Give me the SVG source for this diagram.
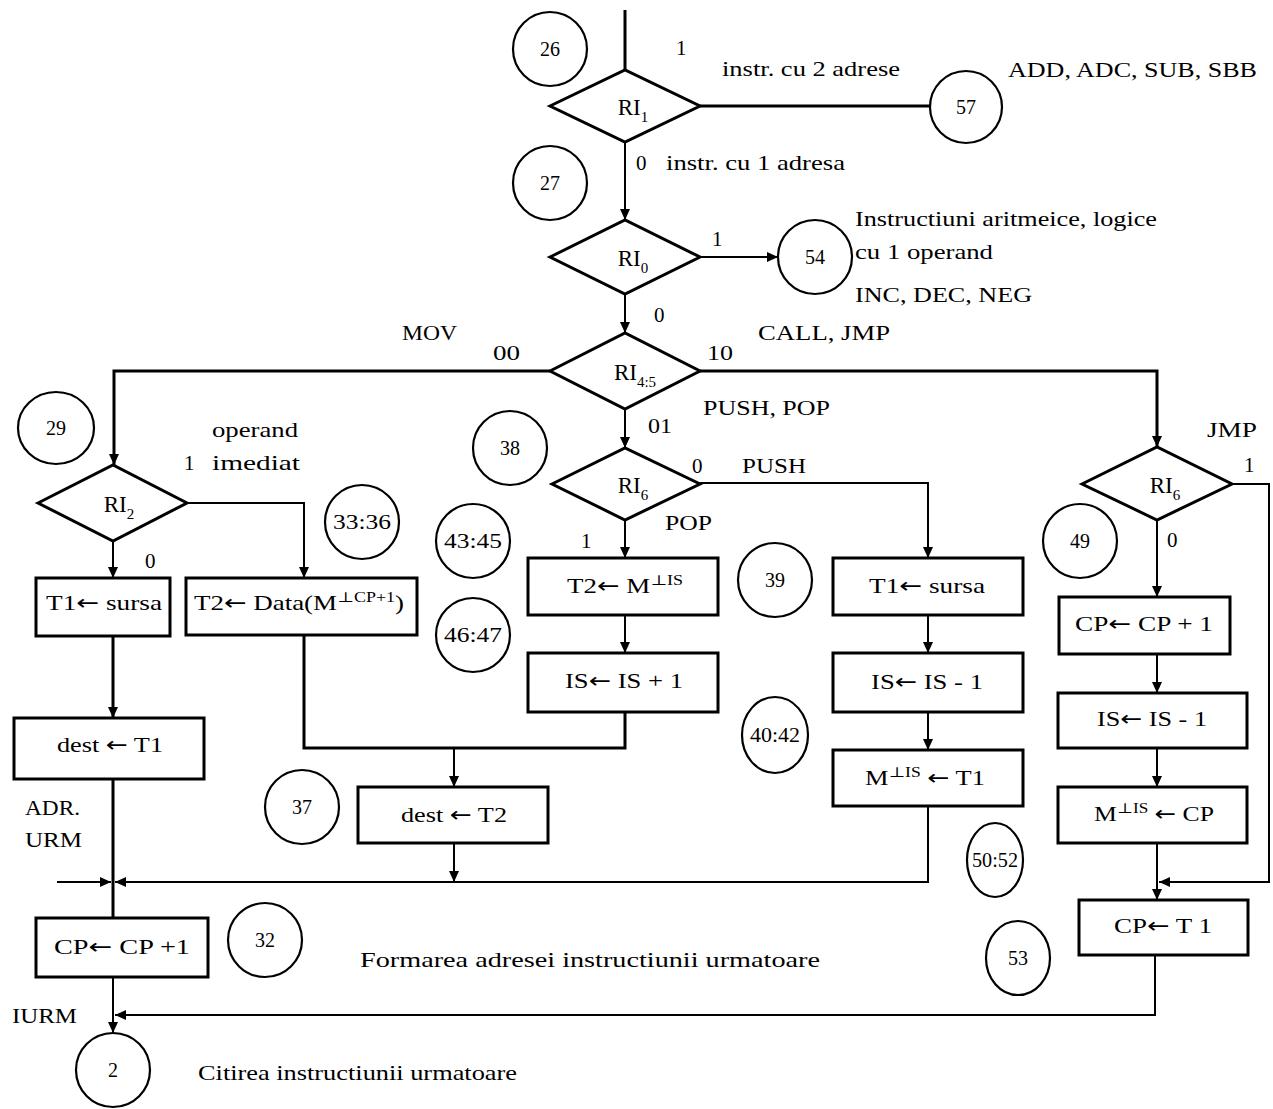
<svg xmlns="http://www.w3.org/2000/svg" width="1273" height="1109" viewBox="0 0 1273 1109">
<style>
text{font-family:"Liberation Serif","Times New Roman","DejaVu Serif",serif;font-size:21px;fill:#000}
.num{font-size:20px;text-anchor:middle}
.m{text-anchor:middle}
.ri{font-size:23px}
.sub{font-size:15px}
.sup{font-size:14px}
.ar{font-family:"DejaVu Sans",sans-serif}
.circ{fill:#fff;stroke:#000;stroke-width:2.2}
.box{fill:#fff;stroke:#000;stroke-width:3}
.dia{fill:#fff;stroke:#000;stroke-width:3}
.con polyline,.con line{fill:none;stroke:#000;stroke-width:2}
.con .thick{stroke-width:3}
</style>
<defs>
<marker id="a" markerWidth="12" markerHeight="10" refX="11" refY="5" orient="auto" markerUnits="userSpaceOnUse"><path d="M0,0 L11,5 L0,10 z" fill="#000"/></marker>
</defs>
<g id="connectors" class="con">
<line class="thick" x1="625" y1="10" x2="625" y2="70"/>
<line class="thick" x1="700" y1="106" x2="930" y2="106"/>
<line x1="625" y1="142" x2="625" y2="220" marker-end="url(#a)"/>
<line x1="700" y1="257" x2="778" y2="257" marker-end="url(#a)"/>
<line x1="625" y1="294" x2="625" y2="333" marker-end="url(#a)"/>
<polyline class="thick" points="550,371 114,371 114,465" marker-end="url(#a)"/>
<polyline class="thick" points="700,371 1157,371 1157,447" marker-end="url(#a)"/>
<line x1="625" y1="409" x2="625" y2="448" marker-end="url(#a)"/>
<polyline points="187,503 304,503 304,578" marker-end="url(#a)"/>
<line x1="113" y1="541" x2="113" y2="578" marker-end="url(#a)"/>
<line class="thick" x1="113" y1="636" x2="113" y2="718" marker-end="url(#a)"/>
<polyline class="thick" points="304,635 304,748 625,748 625,712"/>
<line x1="454" y1="748" x2="454" y2="787" marker-end="url(#a)"/>
<line x1="454" y1="843" x2="454" y2="882" marker-end="url(#a)"/>
<line x1="625" y1="520" x2="625" y2="558" marker-end="url(#a)"/>
<line x1="625" y1="615" x2="625" y2="653" marker-end="url(#a)"/>
<polyline points="700,483 928,483 928,558" marker-end="url(#a)"/>
<line x1="928" y1="615" x2="928" y2="653" marker-end="url(#a)"/>
<line x1="928" y1="712" x2="928" y2="750" marker-end="url(#a)"/>
<polyline points="928,806 928,882 115,882" marker-end="url(#a)"/>
<line x1="57" y1="882" x2="111" y2="882" marker-end="url(#a)"/>
<line class="thick" x1="113" y1="779" x2="113" y2="918"/>
<line x1="113" y1="977" x2="113" y2="1033" marker-end="url(#a)"/>
<polyline points="1155,955 1155,1015 115,1015" marker-end="url(#a)"/>
<line x1="1157" y1="520" x2="1157" y2="597" marker-end="url(#a)"/>
<line x1="1157" y1="654" x2="1157" y2="693" marker-end="url(#a)"/>
<line x1="1157" y1="748" x2="1157" y2="787" marker-end="url(#a)"/>
<line x1="1157" y1="843" x2="1157" y2="900" marker-end="url(#a)"/>
<polyline points="1232,484 1269,484 1269,882 1159,882" marker-end="url(#a)"/>
</g>
<g id="d_ri1"><polygon class="dia" points="550,106 625,70 700,106 625,142"/><text x="633" y="115" class="m ri">RI<tspan class="sub" dy="7">1</tspan></text></g>
<g id="d_ri0"><polygon class="dia" points="550,257 625,220 700,257 625,294"/><text x="633" y="266" class="m ri">RI<tspan class="sub" dy="7">0</tspan></text></g>
<g id="d_ri45"><polygon class="dia" points="550,371 625,333 700,371 625,409"/><text x="635" y="380" class="m ri">RI<tspan class="sub" dy="7">4:5</tspan></text></g>
<g id="d_ri2"><polygon class="dia" points="38,503 113,465 187,503 113,541"/><text x="119" y="512" class="m ri">RI<tspan class="sub" dy="7">2</tspan></text></g>
<g id="d_ri6a"><polygon class="dia" points="552,484 625,448 700,484 625,520"/><text x="633" y="493" class="m ri">RI<tspan class="sub" dy="7">6</tspan></text></g>
<g id="d_ri6b"><polygon class="dia" points="1082,484 1157,447 1232,484 1157,520"/><text x="1165" y="493" class="m ri">RI<tspan class="sub" dy="7">6</tspan></text></g>
<g id="c26"><circle class="circ" cx="550" cy="49" r="37"/><text class="num" x="550" y="56">26</text></g>
<g id="c27"><circle class="circ" cx="550" cy="183" r="37"/><text class="num" x="550" y="190">27</text></g>
<g id="c57"><circle class="circ" cx="966" cy="107" r="36"/><text class="num" x="966" y="114">57</text></g>
<g id="c54"><circle class="circ" cx="815" cy="257" r="37"/><text class="num" x="815" y="264">54</text></g>
<g id="c29"><ellipse class="circ" cx="56" cy="428" rx="38" ry="36"/><text class="num" x="56" y="435">29</text></g>
<g id="c3336"><circle class="circ" cx="362" cy="522" r="37"/><text class="num" x="362" y="529" textLength="58" lengthAdjust="spacingAndGlyphs">33:36</text></g>
<g id="c38"><circle class="circ" cx="510" cy="448" r="37"/><text class="num" x="510" y="455">38</text></g>
<g id="c4345"><circle class="circ" cx="473" cy="541" r="37"/><text class="num" x="473" y="548" textLength="58" lengthAdjust="spacingAndGlyphs">43:45</text></g>
<g id="c4647"><circle class="circ" cx="473" cy="635" r="37"/><text class="num" x="473" y="642" textLength="58" lengthAdjust="spacingAndGlyphs">46:47</text></g>
<g id="c39"><circle class="circ" cx="775" cy="580" r="37"/><text class="num" x="775" y="587">39</text></g>
<g id="c4042"><ellipse class="circ" cx="775" cy="735" rx="33" ry="38"/><text class="num" x="775" y="742" textLength="50" lengthAdjust="spacingAndGlyphs">40:42</text></g>
<g id="c49"><circle class="circ" cx="1080" cy="541" r="37"/><text class="num" x="1080" y="548">49</text></g>
<g id="c37"><circle class="circ" cx="302" cy="807" r="37"/><text class="num" x="302" y="814">37</text></g>
<g id="c5052"><ellipse class="circ" cx="995" cy="860" rx="28" ry="37"/><text class="num" x="995" y="867" textLength="46" lengthAdjust="spacingAndGlyphs">50:52</text></g>
<g id="c32"><circle class="circ" cx="265" cy="940" r="37"/><text class="num" x="265" y="947">32</text></g>
<g id="c53"><ellipse class="circ" cx="1018" cy="958" rx="32" ry="37"/><text class="num" x="1018" y="965">53</text></g>
<g id="c2"><circle class="circ" cx="113" cy="1070" r="37"/><text class="num" x="113" y="1077">2</text></g>
<g id="b_t1sursa"><rect class="box" x="36" y="578" width="134" height="58"/><text x="104" y="610" class="m" textLength="116" lengthAdjust="spacingAndGlyphs">T1<tspan class="ar">←</tspan> sursa</text></g>
<g id="b_t2data"><rect class="box" x="186" y="578" width="231" height="57"/><text x="299" y="610" class="m" textLength="210" lengthAdjust="spacingAndGlyphs">T2<tspan class="ar">←</tspan> Data(M<tspan class="sup" dy="-8">⊥CP+1</tspan><tspan dy="8">)</tspan></text></g>
<g id="b_t2mis"><rect class="box" x="528" y="558" width="190" height="57"/><text x="625" y="593" class="m" textLength="116" lengthAdjust="spacingAndGlyphs">T2<tspan class="ar">←</tspan>  M<tspan class="sup" dy="-8">⊥IS</tspan></text></g>
<g id="b_isplus"><rect class="box" x="528" y="653" width="190" height="59"/><text x="624" y="688" class="m" textLength="118" lengthAdjust="spacingAndGlyphs">IS<tspan class="ar">←</tspan> IS + 1</text></g>
<g id="b_t1sursa2"><rect class="box" x="833" y="558" width="190" height="57"/><text x="927" y="593" class="m" textLength="116" lengthAdjust="spacingAndGlyphs">T1<tspan class="ar">←</tspan> sursa</text></g>
<g id="b_isminus"><rect class="box" x="833" y="653" width="190" height="59"/><text x="927" y="689" class="m" textLength="112" lengthAdjust="spacingAndGlyphs">IS<tspan class="ar">←</tspan> IS - 1</text></g>
<g id="b_mist1"><rect class="box" x="833" y="750" width="190" height="56"/><text x="925" y="785" class="m" textLength="120" lengthAdjust="spacingAndGlyphs">M<tspan class="sup" dy="-8">⊥IS</tspan><tspan dy="8"> </tspan><tspan class="ar">←</tspan> T1</text></g>
<g id="b_cpplus"><rect class="box" x="1059" y="597" width="171" height="57"/><text x="1144" y="631" class="m" textLength="138" lengthAdjust="spacingAndGlyphs">CP<tspan class="ar">←</tspan> CP + 1</text></g>
<g id="b_isminus2"><rect class="box" x="1058" y="693" width="189" height="55"/><text x="1152" y="726" class="m" textLength="110" lengthAdjust="spacingAndGlyphs">IS<tspan class="ar">←</tspan> IS - 1</text></g>
<g id="b_miscp"><rect class="box" x="1058" y="787" width="189" height="56"/><text x="1154" y="821" class="m" textLength="120" lengthAdjust="spacingAndGlyphs">M<tspan class="sup" dy="-8">⊥IS</tspan><tspan dy="8"> </tspan><tspan class="ar">←</tspan> CP</text></g>
<g id="b_cpt1"><rect class="box" x="1079" y="900" width="169" height="55"/><text x="1163" y="933" class="m" textLength="98" lengthAdjust="spacingAndGlyphs">CP<tspan class="ar">←</tspan> T 1</text></g>
<g id="b_destt1"><rect class="box" x="14" y="718" width="190" height="61"/><text x="110" y="752" class="m" textLength="106" lengthAdjust="spacingAndGlyphs">dest <tspan class="ar">←</tspan> T1</text></g>
<g id="b_destt2"><rect class="box" x="358" y="787" width="190" height="56"/><text x="454" y="822" class="m" textLength="106" lengthAdjust="spacingAndGlyphs">dest <tspan class="ar">←</tspan> T2</text></g>
<g id="b_cpplus2"><rect class="box" x="36" y="918" width="172" height="59"/><text x="122" y="954" class="m" textLength="136" lengthAdjust="spacingAndGlyphs">CP<tspan class="ar">←</tspan> CP +1</text></g>
<g id="labels">
<text x="676" y="55">1</text>
<text x="722" y="76" textLength="178" lengthAdjust="spacingAndGlyphs">instr. cu 2 adrese</text>
<text x="1008" y="77" textLength="249" lengthAdjust="spacingAndGlyphs">ADD, ADC, SUB, SBB</text>
<text x="636" y="170">0</text>
<text x="666" y="170" textLength="179" lengthAdjust="spacingAndGlyphs">instr. cu 1 adresa</text>
<text x="855" y="226" textLength="302" lengthAdjust="spacingAndGlyphs">Instructiuni aritmeice, logice</text>
<text x="712" y="246">1</text>
<text x="855" y="259" textLength="138" lengthAdjust="spacingAndGlyphs">cu 1 operand</text>
<text x="855" y="302" textLength="177" lengthAdjust="spacingAndGlyphs">INC, DEC, NEG</text>
<text x="654" y="322">0</text>
<text x="402" y="340" textLength="55" lengthAdjust="spacingAndGlyphs">MOV</text>
<text x="758" y="340" textLength="132" lengthAdjust="spacingAndGlyphs">CALL, JMP</text>
<text x="493" y="360" textLength="27" lengthAdjust="spacingAndGlyphs">00</text>
<text x="707" y="360" textLength="26" lengthAdjust="spacingAndGlyphs">10</text>
<text x="703" y="415" textLength="127" lengthAdjust="spacingAndGlyphs">PUSH, POP</text>
<text x="648" y="433" textLength="24" lengthAdjust="spacingAndGlyphs">01</text>
<text x="212" y="437" textLength="86" lengthAdjust="spacingAndGlyphs">operand</text>
<text x="212" y="470" textLength="88" lengthAdjust="spacingAndGlyphs">imediat</text>
<text x="184" y="470">1</text>
<text x="692" y="473">0</text>
<text x="742" y="473" textLength="64" lengthAdjust="spacingAndGlyphs">PUSH</text>
<text x="1207" y="437" textLength="50" lengthAdjust="spacingAndGlyphs">JMP</text>
<text x="1244" y="472">1</text>
<text x="665" y="530" textLength="47" lengthAdjust="spacingAndGlyphs">POP</text>
<text x="145" y="568">0</text>
<text x="581" y="548">1</text>
<text x="1167" y="547">0</text>
<text x="25" y="815" textLength="55" lengthAdjust="spacingAndGlyphs">ADR.</text>
<text x="25" y="847" textLength="57" lengthAdjust="spacingAndGlyphs">URM</text>
<text x="360" y="967" textLength="460" lengthAdjust="spacingAndGlyphs">Formarea adresei instructiunii urmatoare</text>
<text x="12" y="1023" textLength="65" lengthAdjust="spacingAndGlyphs">IURM</text>
<text x="198" y="1080" textLength="319" lengthAdjust="spacingAndGlyphs">Citirea instructiunii urmatoare</text>
</g>
</svg>
